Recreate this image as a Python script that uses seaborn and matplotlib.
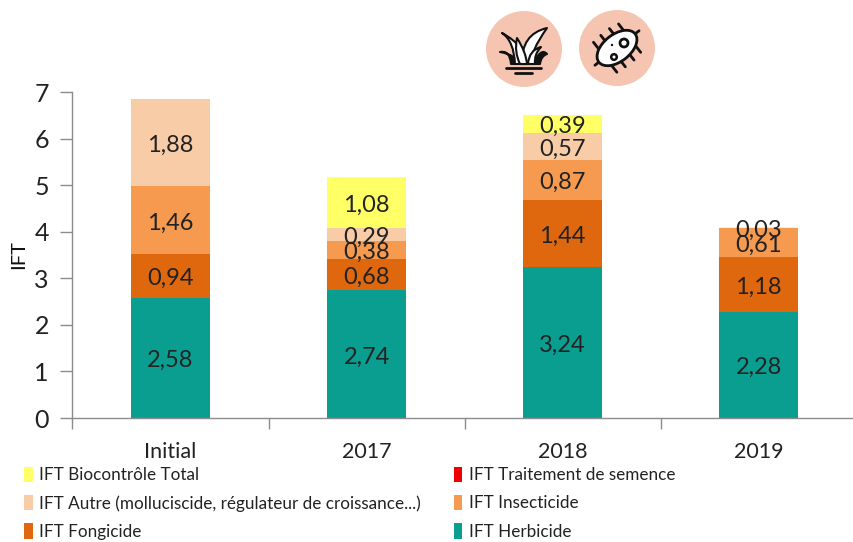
import numpy as np
import pandas as pd
import matplotlib
matplotlib.use("Agg")
import matplotlib.pyplot as plt
from matplotlib.patches import Circle, Ellipse, Patch, PathPatch
from matplotlib.path import Path
import seaborn as sns

categories = ["Initial", "2017", "2018", "2019"]
herbicide = [2.58, 2.74, 3.24, 2.28]
fongicide = [0.94, 0.68, 1.44, 1.18]
insecticide = [1.46, 0.38, 0.87, 0.61]
autre = [1.88, 0.29, 0.57, 0.0]
semence = [0.0, 0.0, 0.0, 0.0]
biocontrole = [0.0, 1.08, 0.39, 0.03]

names = ["IFT Herbicide", "IFT Fongicide", "IFT Insecticide",
         "IFT Autre (molluciscide, régulateur de croissance...)",
         "IFT Traitement de semence", "IFT Biocontrôle Total"]
colors = ["#0A9E90", "#DF680F", "#F59A4E", "#F9CCA8", "#F00000", "#FFFF66"]
series = [herbicide, fongicide, insecticide, autre, semence, biocontrole]

sns.set_theme(style="white")
plt.rcParams["font.family"] = ["Lato", "DejaVu Sans"]
AX = "#8c8c8c"
TXT = "#222222"

fig = plt.figure(figsize=(8.54, 5.42), dpi=100, facecolor="white")
ax = fig.add_axes([72.5/854, (542-418)/542, (854-72.5)/854, (418-92)/542])

bottom = np.zeros(len(categories))
for name, vals, col in zip(names, series, colors):
    df = pd.DataFrame({"cat": categories, "val": vals})
    sns.barplot(data=df, x="cat", y="val", color=col, saturation=1, width=0.403,
                bottom=bottom, ax=ax, order=categories, errorbar=None, linewidth=0)
    for i, v in enumerate(vals):
        if v > 0:
            ax.annotate(f"{v:.2f}".replace(".", ","), (i, bottom[i] + v/2),
                        xytext=(0, -2), textcoords="offset points", ha="center",
                        va="center", fontsize=17, color=TXT)
    bottom = bottom + np.array(vals)

ax.set_xlim(-0.5, 3.487)
ax.set_ylim(0, 7)
ax.set_xlabel("")
ax.set_ylabel("IFT", fontsize=14.5, color="#111111", labelpad=5)
ax.set_yticks(range(8))
ax.tick_params(axis="y", length=9, width=1, color=AX, labelsize=18, labelcolor=TXT, left=True, pad=8)
ax.set_xticks(range(4))
ax.set_xticklabels(categories)
ax.set_xticks([0.5, 1.5, 2.5, -0.5], minor=True)
ax.tick_params(axis="x", which="major", length=0, labelsize=15.5, labelcolor=TXT, pad=17)
ax.tick_params(axis="x", which="minor", length=8, width=1, color=AX, bottom=True)
for s in ["top", "right"]:
    ax.spines[s].set_visible(False)
for s in ["left", "bottom"]:
    ax.spines[s].set_color(AX)
    ax.spines[s].set_linewidth(1)

order = [5, 3, 1, 4, 2, 0]
handles = [Patch(facecolor=colors[i], edgecolor="none", label=names[i]) for i in order]
fig.legend(handles=handles, ncol=2, frameon=False, fontsize=12.3, labelcolor=TXT,
           loc="upper left", bbox_to_anchor=(24/854, 1-(466.5/542)),
           borderaxespad=0, borderpad=0, handlelength=0.5, handleheight=1.0,
           handletextpad=0.4, labelspacing=0.70, columnspacing=1.9)

# Decorative icons
ov = fig.add_axes([0, 0, 1, 1], facecolor="none")
ov.set_xlim(0, 854); ov.set_ylim(542, 0); ov.axis("off")
CIRC = "#F5C5B2"
INK = "#111111"
ov.add_patch(Circle((524, 49), 38, fc=CIRC, ec="none"))
ov.add_patch(Circle((617, 48), 38, fc=CIRC, ec="none"))

def leaf(base_l, base_r, tip, c_out, c_in, fc="white"):
    verts = [base_l, c_out, tip, c_in, base_r, base_l]
    codes = [Path.MOVETO, Path.CURVE3, Path.CURVE3, Path.CURVE3, Path.CURVE3, Path.CLOSEPOLY]
    ov.add_patch(PathPatch(Path(verts, codes), fc=fc, ec=INK, lw=1.5, joinstyle="round"))

leaf((511, 64), (517, 64), (500, 52), (510, 50), (517, 55), fc=INK)
leaf((533, 64), (540, 64), (547, 54), (541, 47), (541, 56), fc=INK)
leaf((515, 64), (525, 64), (502, 33), (514, 41), (526, 46))
leaf((522, 64), (531, 64), (547, 28), (521, 34), (530, 52))
leaf((520, 64), (527, 64), (517, 38), (514, 52), (526, 52))
leaf((528, 64), (535, 64), (541, 47), (529, 50), (534, 54))
ov.plot([506, 541], [68, 68], color=INK, lw=2, solid_capstyle="round")
ov.plot([515, 532], [73, 73], color=INK, lw=2, solid_capstyle="round")

a = np.deg2rad(-38)
ux, uy = np.cos(a), np.sin(a)
vx, vy = -uy, ux
cx, cy = 617, 48
for t, s0, s1 in [(-15, 11, 19), (-5, 12, 20), (6, 12, 20), (16, 10, 18),
                  (-15, -11, -19), (-5, -12, -20), (6, -12, -20), (16, -10, -18)]:
    ov.plot([cx + ux*t + vx*s0, cx + ux*t + vx*s1], [cy + uy*t + vy*s0, cy + uy*t + vy*s1],
            color=INK, lw=2, zorder=2, solid_capstyle="round")
for t0, t1 in [(-22, -28), (22, 28)]:
    ov.plot([cx + ux*t0, cx + ux*t1], [cy + uy*t0, cy + uy*t1],
            color=INK, lw=2, zorder=2, solid_capstyle="round")
ov.add_patch(Ellipse((cx, cy), 46, 27, angle=-38, fc="white", ec=INK, lw=2, zorder=3))
ov.add_patch(Circle((624, 43), 4, fc="white", ec=INK, lw=2, zorder=4))
ov.add_patch(Circle((614, 57), 2.8, fc="white", ec=INK, lw=1.8, zorder=4))
ov.add_patch(Circle((612, 45), 1.2, fc=INK, ec="none", zorder=4))

fig.savefig("out.png", dpi=100, facecolor="white")
